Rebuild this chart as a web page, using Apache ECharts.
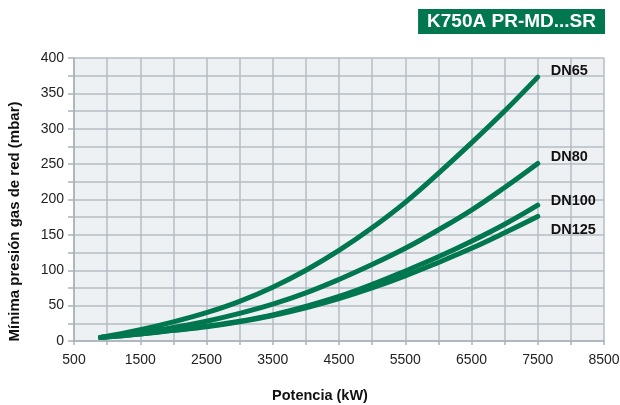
<!DOCTYPE html>
<html>
<head>
<meta charset="utf-8">
<script src="https://cdn.jsdelivr.net/npm/echarts@6/dist/echarts.min.js"></script>
<style>
  html, body { margin: 0; padding: 0; background: #fff; }
  #chart { width: 620px; height: 405px; }
</style>
</head>
<body>
<div id="chart"></div>
<script>
const potencia = [900, 1500, 2000, 2500, 3000, 3500, 4000, 4500, 5000, 5500, 6000, 6500, 7000, 7500];
const dn65 = [5, 16, 27, 40, 56, 76, 100, 128, 160, 196, 237, 280, 325, 373];
const dn80 = [5, 12, 19, 28, 39, 52, 68, 87, 108, 131, 157, 185, 217, 251];
const dn100 = [5, 10, 15, 21, 28, 37, 49, 63, 80, 99, 119, 141, 165, 192];
const dn125 = [5, 10, 15, 20, 27, 36, 47, 60, 75, 92, 111, 131, 153, 176];
const seriesNames = ["DN65", "DN80", "DN100", "DN125"];
const labelOffsets = [[5, -6], [5, -6], [5, -4], [5, 14]];

const green = "#00774f";
const chart = echarts.init(document.getElementById("chart"));

const pairs = (ys) => potencia.map((x, i) => [x, ys[i]]);

chart.setOption({
  animation: false,
  textStyle: { fontFamily: "Liberation Sans, Arial, sans-serif" },
  title: {
    text: "K750A PR-MD...SR",
    right: 15,
    top: 9,
    backgroundColor: green,
    padding: [3, 9, 2, 9],
    textStyle: { color: "#fff", fontSize: 19, fontWeight: "bold", lineHeight: 20 }
  },
  grid: {
    left: 74, right: 16, top: 58, bottom: 64,
    outerBoundsMode: "none",
    show: true, backgroundColor: "#eef1f4", borderWidth: 0
  },
  xAxis: {
    type: "value",
    min: 500,
    max: 8500,
    interval: 500,
    name: "Potencia (kW)",
    nameLocation: "middle",
    nameGap: 47,
    nameTextStyle: { fontSize: 14.5, fontWeight: "bold", color: "#111", padding: [0, 38, 0, 0] },
    axisLine: { show: true, lineStyle: { color: "#a9b2ba", width: 1.5 } },
    axisTick: { show: true, length: 4, interval: 0, lineStyle: { color: "#a9b2ba", width: 1.5 } },
    axisLabel: {
      fontSize: 14, color: "#222", margin: 12,
      formatter: (v) => ((v - 500) % 1000 === 0 ? String(v) : "")
    },
    splitLine: { show: true, lineStyle: { color: "#b4bcc4", width: 1.5 } }
  },
  yAxis: {
    type: "value",
    min: 0,
    max: 400,
    interval: 25,
    name: "Mínima presión gas de red (mbar)",
    nameLocation: "middle",
    nameGap: 52,
    nameTextStyle: { fontSize: 15, fontWeight: "bold", color: "#111", padding: [0, 44, 0, 0] },
    axisLine: { show: true, lineStyle: { color: "#a9b2ba", width: 1.5 } },
    axisTick: { show: true, length: 6, lineStyle: { color: "#a9b2ba", width: 1.5 } },
    axisLabel: {
      fontSize: 14, color: "#222", margin: 10,
      formatter: (v) => (v % 50 === 0 ? String(v) : "")
    },
    splitLine: { show: true, lineStyle: { color: "#b4bcc4", width: 1.5 } }
  },
  series: [dn65, dn80, dn100, dn125].map((ys, i) => ({
    name: seriesNames[i],
    type: "line",
    data: pairs(ys),
    smooth: 0.4,
    symbol: "none",
    lineStyle: { color: green, width: 5, cap: "round" },
    endLabel: {
      show: true,
      formatter: seriesNames[i],
      offset: labelOffsets[i],
      fontSize: 14.5,
      fontWeight: "bold",
      color: "#111"
    }
  }))
});
</script>
</body>
</html>
